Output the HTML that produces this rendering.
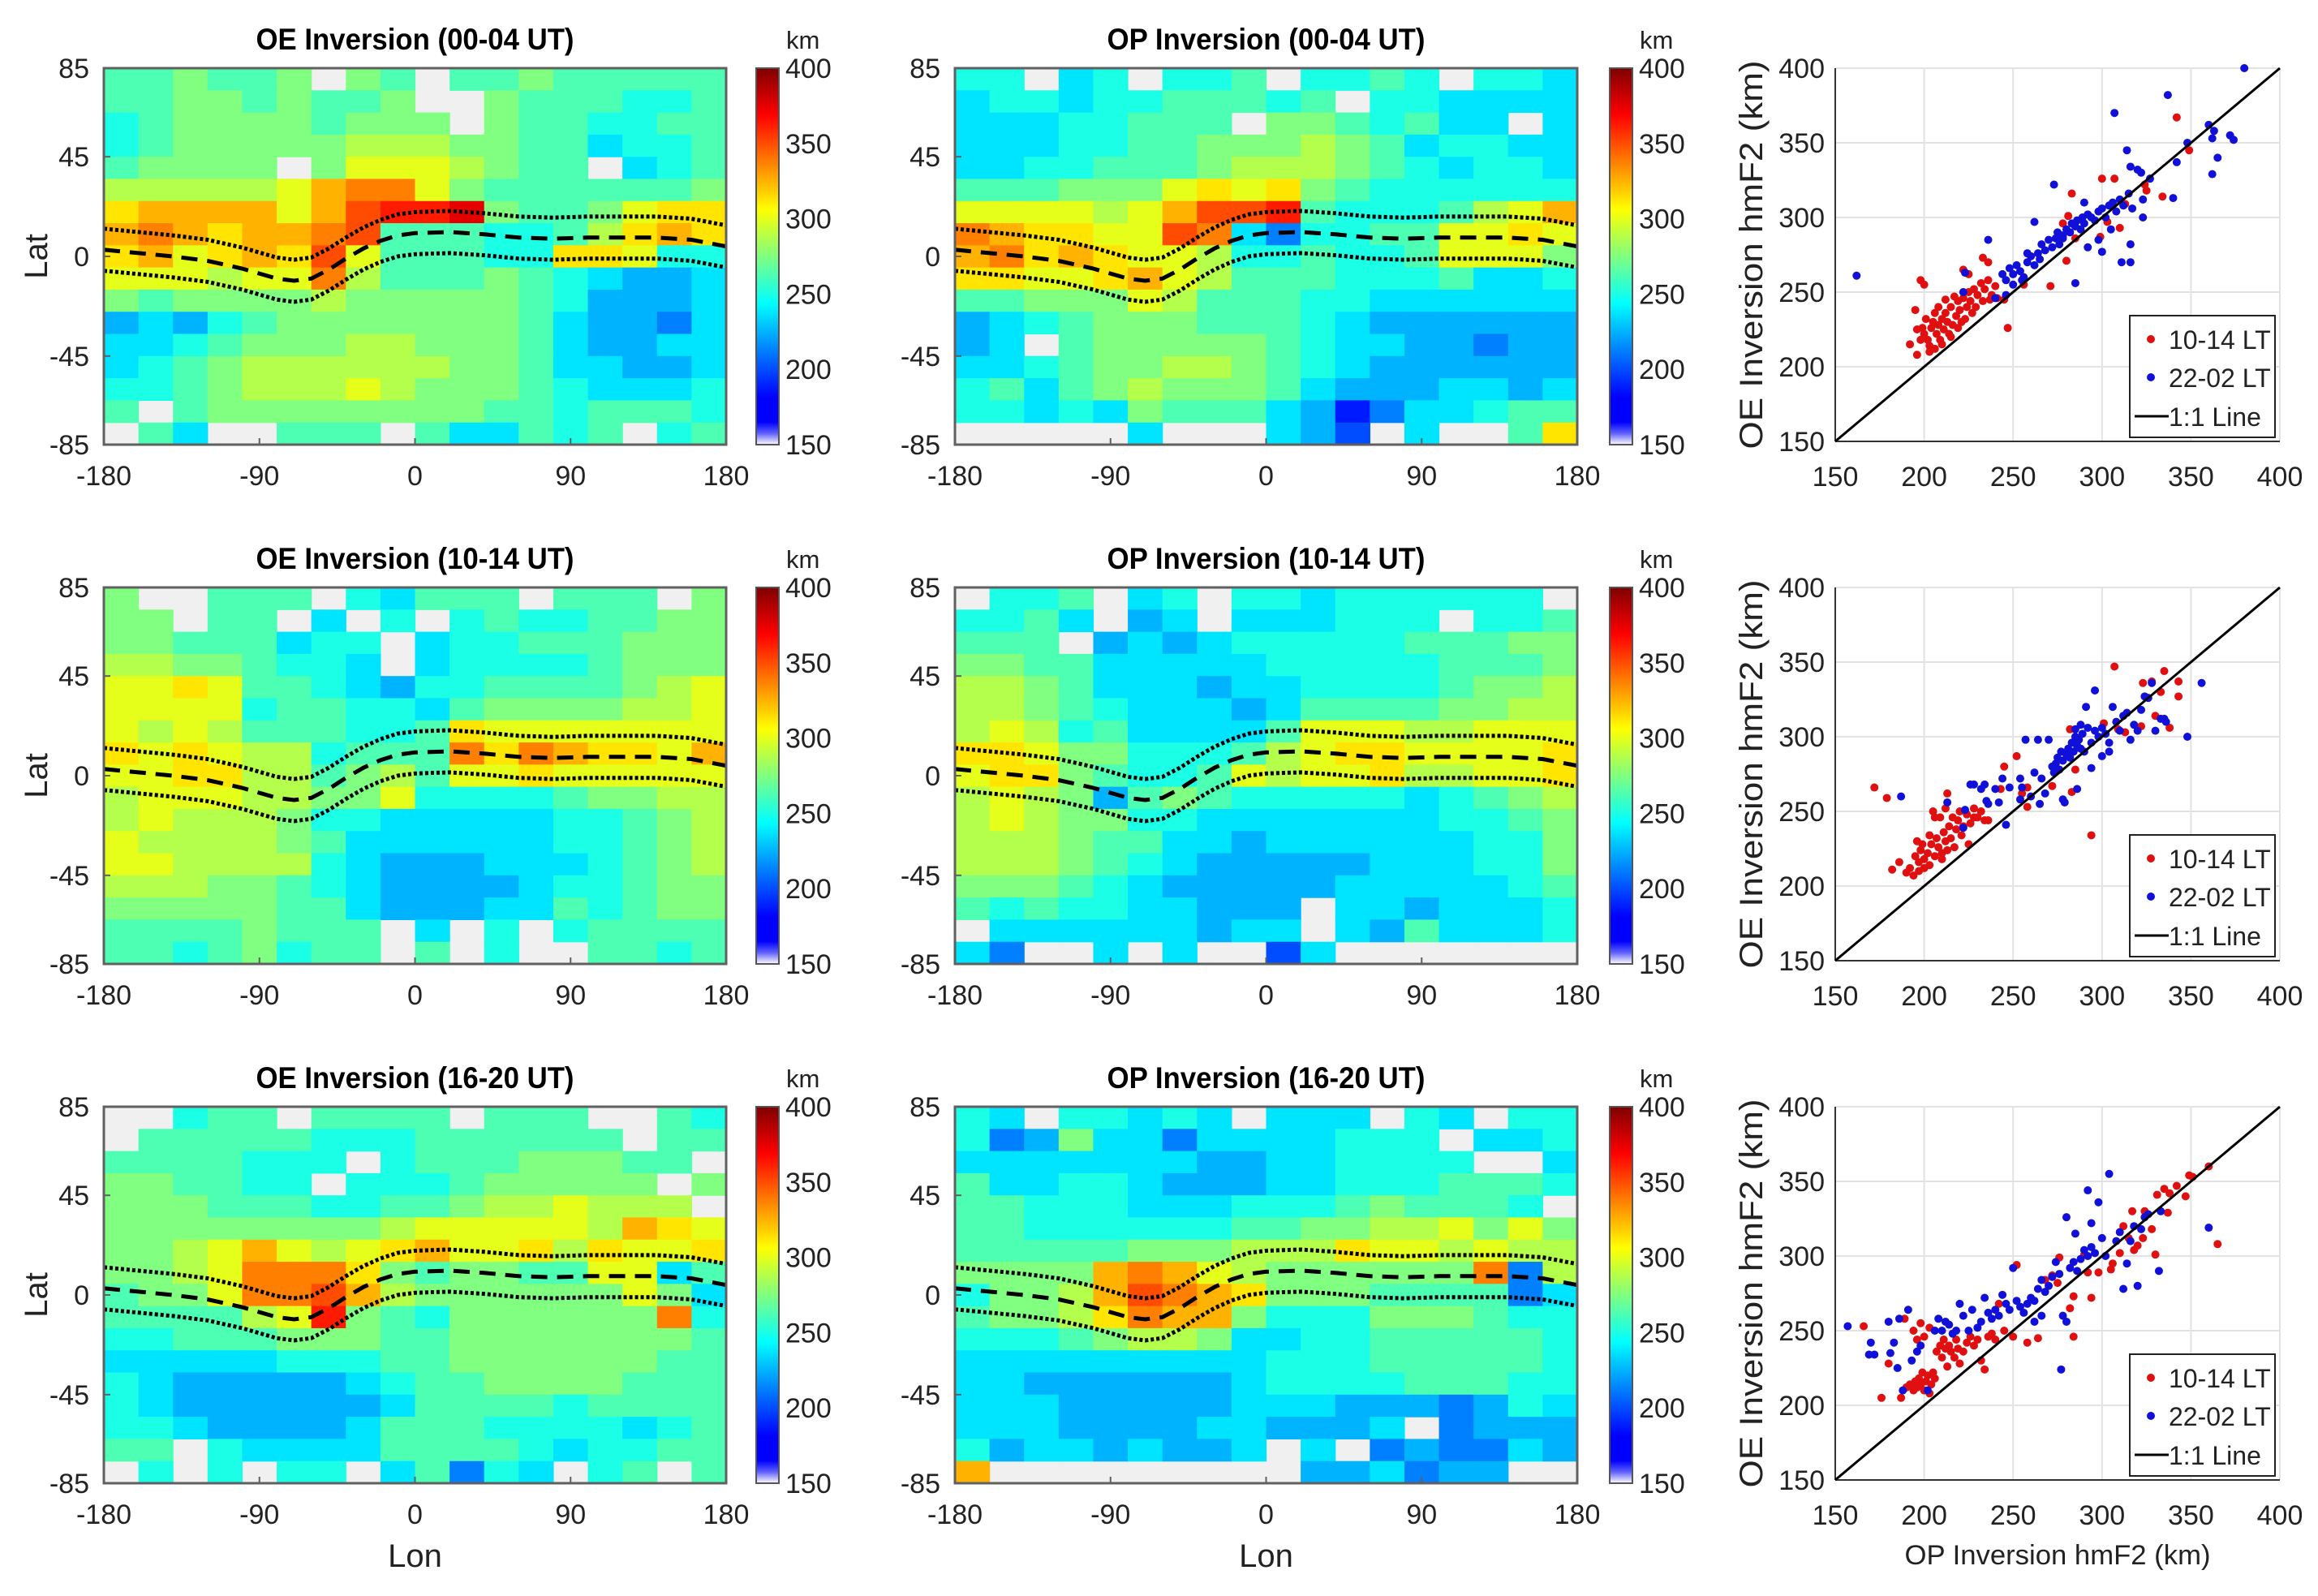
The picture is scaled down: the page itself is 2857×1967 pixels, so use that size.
<!DOCTYPE html>
<html><head><meta charset="utf-8"><title>OE vs OP Inversion hmF2</title>
<style>
html,body{margin:0;padding:0;background:#fff;}
svg{display:block;font-family:"Liberation Sans",Arial,sans-serif;}
</style></head>
<body>
<svg id="fig" xmlns="http://www.w3.org/2000/svg" width="2857" height="1967" viewBox="0 0 2857 1967">
<defs>
<linearGradient id="jet" x1="0" y1="1" x2="0" y2="0">
<stop offset="0" stop-color="#ffffff"/>
<stop offset="0.03" stop-color="#6060ff"/>
<stop offset="0.06" stop-color="#0000ff"/>
<stop offset="0.125" stop-color="#0000ff"/>
<stop offset="0.375" stop-color="#00ffff"/>
<stop offset="0.625" stop-color="#ffff00"/>
<stop offset="0.875" stop-color="#ff0000"/>
<stop offset="1" stop-color="#800000"/>
</linearGradient>
</defs>
</svg>
<script>
const LEVELS = "abcdefghijklmnopqrstu";
const gridOE0004 = [
"jjkjjk.kj.jjkjjjjj","jjkkjkjjk..kjjjiij","ijkkkkjkkk.kjjiijj","ijkkkkklllkkjjhiij",
"jkkkk.kmmmlkjj.hij","lllllmoppmkjjjjjjk","noooomoqrrskjjkmnn","oponoopqjjjiijlnon",
"nomnonqmjjjiinnmii","mmmlmmpljjjkjihggh","kjkkkklkkkkkjigggh","ghgijkkkkkkkjhggfh",
"hhijkkkllkkkjhgghh","hijkllllllkkjhhggh","iijklllmlkkkjihhhi","j.jkkkkkkkkjjijjji",
".jh..jjj.jhhjij.ij"];
const gridOP0004 = [
"ii.hi.iij.iiji.iih","hiihiijjjij.iihhhh","hhhiijjj.kkjijhh.h","hhhiijjkkklkjhiihh",
"hhiijjjklllkjihiih","jjjkkkmnmnkjiiiiii","mmmmlmoqqrjiiijlmo","ponnmmqphfiijjmmnm",
"opnonmmliijiijmmmk","nnmmnomljjjiiijhhi","jjkkkmljjjiihhhhhh","ghijkkkjjjihgggggg",
"gh.jkkkkkjihhggfgg","hhijkkllkjihgggggg","ijhjklkkkjhggghhgh","iihihkjjjhgdfhhijj",
".....h...hge.h..jn"];
const gridOE1014 = [
"k..jjj.ihjjj.jjj.k","kk.jj.h.i.ijiijjkk","kkjjjhii.hiijjjkkk","llkkjiih.hiiiijkkk",
"mmnmjjihgiijjjjklm","mmmmijjiihjkkkkllm","mlmljjjiijnmmmmmmm","nmnmllijjjpnponnmo",
"mmnnlljkljmmnmmmmm","lmmmllkkmiiiijkkll","lmlllkiihhhhhiijkl","mllllkjhhhhhhiijkl",
"mmllllihggghhhijkl","lllkkjihgggghiijkk","kkkkkjjhggghhjijkk","jjjjkjjj.h.i.ijjjj",
"jjijkijj.j.i..jjij"];
const gridOP1014 = [
".iij.hi.iihiiiiii.","iijh.gh.hhhiii.iij","jjj.ghghiiiiijjjkk","kkjjhhhhhiiiiijjjk",
"llkjhhhghhiiiijkkl","llkjihhhghjjjjkkll","lmlijhhhhjmmmllmmm","nnmkkiiijlmnnmmmmn",
"mnnkjiijmlmmnllmmn","lmlkgjkjiiiiihijkl","lmlkkiihhhhhhhiijk","lllkjjhhghhhhhhiik",
"lllkjihggggghhhiik","kkkjihggggghhhhhij","jijiihhggg.hhghhhi",".hhhhhhghh.hgjhhhi",
"hf..h.h..eh......."];
const gridOE1620 = [
"..ijj.jjjj.jjj..ji",".jjjjjiiijjjjjj.jj","jjjjiii.ijjjkkkjj.","kkjjii.iiijkkkkk.k",
"kkkjjjiijjkllmlll.","kkkkkkkklmmmmmlonm","kklmomlmnommnlnmmn","kklmpppnkjkkjjmmhj",
"jkkmppqolkkkkkkmkh","jjjjlmrkjikkkkkkpi","iijjjkkkjjkkkkkkkj","hhhhhiiijjkkkkkkjj",
"ihggggghijjkkkkjjj","ihgggggghjjjjijjjj","iihgggghjjjiiiihij","jj.ihhhhjjjjihiijj",
".i.i.ii.hjfih.ij.j"];
const gridOP1620 = [
"ih.iihih.hhh.ih.ii","ifgkhhfhhhhiii.hhi","hhhhhhhgghhiiii..h","jhhiihggghhiiijjji",
"jjiiihhhiiijkjjji.","jjiiiiiijjkkllmkmk","jjjjjkkklllnmmlmll","kkkkopomlkkkkkkpfl",
"ikkloqponkkkjjjjfh","jkklnpookiiikkkjii","iiijkllkhhiijjjjji","hhhhhhhhhiiijjjjji",
"hhgggggghiiiijjjii","hhhggggghhhgggfgih","hhhgggghhgggh.fggg","ighhghggh.h.fgffhg",
"o.........gghfgg.."];
const dipLon = [-180,-160,-140,-120,-100,-80,-70,-60,-50,-40,-30,-20,-10,0,20,40,60,80,100,120,140,160,180];
const dipLat = [3,1.5,0,-2,-5.5,-10,-11,-10,-6,-1,3.5,7,9.5,10.5,11,10,8.5,8,8.5,8.5,8.5,7.5,4.5];
const bandHalfWidth = 9.5;
const lonTicks = [-180,-90,0,90,180];
const latTicks = [85,45,0,-45,-85];
const cbTicks = [150,200,250,300,350,400];
const scTicks = [150,200,250,300,350,400];
const titles = ["OE Inversion (00-04 UT)","OP Inversion (00-04 UT)","OE Inversion (10-14 UT)","OP Inversion (10-14 UT)","OE Inversion (16-20 UT)","OP Inversion (16-20 UT)"];

const red1 = [[200,222],[202,218],[204,226],[205,230],[203,214],[207,222],[208,228],[210,232],[206,236],[209,218],[211,225],[213,230],[212,236],[215,240],[214,222],[216,228],[218,234],[219,244],[220,238],[222,246],[221,230],[224,240],[225,250],[226,244],[228,252],[230,248],[232,256],[234,252],[236,258],[238,248],[240,254],[227,236],[217,247],[212,245],[208,240],[201,232],[199,226],[198,218],[203,210],[206,212],[210,215],[215,220],[219,226],[223,232],[229,240],[233,244],[237,245],[241,246],[198,258],[200,255],[195,238],[196,225],[192,215],[196,208],[222,265],[225,262],[233,273],[236,270],[247,226],[245,245],[256,255],[271,254],[283,316],[281,301],[278,296],[300,326],[307,326],[299,287],[303,297],[310,293],[313,309],[324,322],[325,318],[334,314],[342,367],[349,345],[285,286],[280,271]];
const blue1 = [[244,262],[246,258],[248,266],[250,262],[252,268],[254,264],[256,260],[258,270],[260,274],[262,268],[264,276],[265,272],[266,282],[268,278],[270,285],[272,280],[274,286],[275,290],[276,282],[278,288],[280,292],[282,290],[283,296],[285,294],[286,298],[288,292],[289,300],[290,296],[292,302],[294,300],[296,298],[298,304],[300,306],[302,300],[304,308],[306,310],[308,304],[310,312],[312,308],[315,316],[316,334],[317,306],[320,332],[322,330],[323,312],[327,326],[300,277],[305,292],[311,270],[316,270],[316,282],[323,300],[337,382],[307,370],[314,345],[273,322],[236,285],[222,250],[223,263],[162,261],[285,256],[262,297],[278,286],[340,313],[342,337],[348,350],[360,362],[362,353],[363,358],[365,340],[362,329],[372,355],[374,352],[380,400],[290,310],[292,280],[298,285],[258,276],[246,248],[240,246],[250,255],[255,258]];
const red2 = [[172,266],[179,259],[182,211],[186,216],[190,209],[192,212],[194,207],[197,210],[228,246],[252,287],[245,280],[236,244],[243,265],[258,253],[258,266],[272,267],[283,263],[294,234],[282,305],[285,278],[307,347],[301,309],[309,305],[313,303],[322,307],[323,336],[328,337],[330,314],[333,330],[335,344],[338,306],[343,327],[343,337],[255,262],[195,220],[197,216],[198,224],[200,218],[202,222],[203,214],[204,228],[206,220],[207,232],[208,226],[210,218],[211,236],[212,230],[213,224],[214,240],[215,232],[216,246],[217,226],[218,238],[219,244],[220,250],[221,234],[222,240],[224,248],[225,228],[226,242],[228,252],[230,246],[232,250],[234,244],[205,250],[206,246],[209,246],[213,262],[212,252],[200,212],[203,234],[196,230],[199,228],[210,222]];
const blue2 = [[187,260],[213,256],[222,239],[223,251],[226,268],[228,268],[232,265],[234,268],[235,257],[236,255],[240,265],[242,256],[244,272],[246,241],[248,266],[254,258],[255,266],[257,298],[260,260],[264,298],[265,255],[268,262],[270,298],[272,280],[273,276],[274,282],[275,286],[276,278],[277,290],[278,284],[280,288],[281,292],[282,286],[283,296],[284,290],[285,300],[286,294],[287,298],[288,292],[289,302],[290,290],[292,306],[294,296],[296,304],[298,300],[300,306],[302,302],[304,296],[306,320],[308,310],[310,304],[312,314],[314,316],[316,298],[318,308],[320,304],[322,318],[324,327],[326,326],[328,336],[330,304],[333,312],[335,312],[336,310],[348,300],[356,336],[279,256],[278,258],[286,265],[294,279],[296,331],[291,320],[300,287],[304,290],[288,308],[285,305],[266,272],[262,276],[254,272]];
const red3 = [[166,253],[176,205],[180,228],[187,205],[189,258],[190,212],[192,214],[194,210],[195,216],[196,212],[197,218],[198,214],[199,222],[200,210],[201,216],[202,220],[203,208],[204,214],[205,222],[206,218],[194,250],[196,244],[198,255],[200,246],[203,252],[207,236],[209,240],[210,232],[211,244],[212,238],[213,226],[214,240],[215,236],[217,232],[218,244],[219,238],[220,228],[222,236],[224,242],[226,246],[228,240],[230,244],[232,230],[234,224],[236,246],[238,248],[240,244],[242,268],[245,250],[250,246],[252,294],[258,242],[264,245],[268,284],[272,287],[275,282],[276,299],[282,265],[284,246],[284,273],[290,301],[292,289],[294,272],[298,289],[305,291],[306,295],[310,302],[312,320],[315,312],[317,330],[318,304],[320,307],[323,312],[324,330],[328,318],[330,301],[331,341],[335,345],[337,329],[338,342],[342,347],[347,340],[349,354],[351,353],[360,360],[365,308]];
const blue3 = [[157,253],[169,234],[170,242],[172,234],[180,256],[181,235],[183,242],[185,225],[186,258],[188,210],[191,264],[193,230],[196,236],[198,240],[202,210],[206,250],[208,258],[210,250],[212,256],[214,254],[216,248],[218,250],[220,268],[222,260],[225,250],[227,264],[230,252],[232,256],[234,272],[236,262],[238,258],[240,264],[242,260],[244,274],[246,268],[248,264],[250,292],[252,270],[254,266],[256,262],[258,268],[260,272],[262,270],[264,278],[266,284],[268,276],[270,280],[272,286],[274,296],[276,288],[277,224],[278,260],[280,256],[282,292],[284,296],[286,290],[288,298],[290,304],[292,300],[294,306],[296,302],[298,336],[300,312],[302,300],[304,355],[308,310],[310,316],[312,278],[314,295],[316,310],[318,320],[320,280],[322,318],[324,326],[326,328],[332,290],[333,330],[360,319],[292,344],[280,326],[285,315],[294,322],[262,256],[266,260]];

const NS = "http://www.w3.org/2000/svg";
const fig = document.getElementById("fig");
function el(tag, attrs, parent){ const e=document.createElementNS(NS,tag); for(const k in attrs) e.setAttribute(k,attrs[k]); (parent||fig).appendChild(e); return e; }
function txt(str, attrs, parent){ const e=el("text",attrs,parent); e.textContent=str; return e; }
function clamp(v){ return Math.max(0,Math.min(1,v)); }
function jet(v){ const t=(v-150)/250; const r=clamp(1.5-Math.abs(4*t-3)), g=clamp(1.5-Math.abs(4*t-2)), b=clamp(1.5-Math.abs(4*t-1)); return "rgb("+Math.round(r*255)+","+Math.round(g*255)+","+Math.round(b*255)+")"; }

const rowTops = [84,724,1364];
const heatLefts = [128,1177];
const HW = 767, HH = 464;
const cbLefts = [932,1984];
const TF = 34;

function drawHeat(grid, x0, y0, title, cbx, showLat, showLon, idx){
  const g = el("g",{});
  
  
  const xs = lon => x0 + (lon+180)/360*HW;
  const ys = lat => y0 + (85-lat)/170*HH;
  el("rect",{x:x0,y:y0,width:HW,height:HH,fill:"#f0f0f0"},g);
  const nr = grid.length, nc = grid[0].length;
  for(let r=0;r<nr;r++){
    for(let c=0;c<nc;c++){
      const ch = grid[r][c];
      if(ch==='.') continue;
      const v = 150 + LEVELS.indexOf(ch)*12.5;
      const lonA=-180+c*360/nc, lonB=-180+(c+1)*360/nc;
      const latA=85-r*170/nr, latB=85-(r+1)*170/nr;
      const cell = el("rect",{x:xs(lonA),y:ys(latA),width:xs(lonB)-xs(lonA)+0.6,height:ys(latB)-ys(latA)+0.6,fill:jet(v)},g);
      
      
    }
  }
  const mk = off => dipLon.map((lo,i)=>(i?"L":"M")+xs(lo).toFixed(1)+" "+ys(dipLat[i]+off).toFixed(1)).join(" ");
  const dash = el("path",{d:mk(0),fill:"none",stroke:"#000","stroke-width":5,"stroke-dasharray":"20 12"},g);
  
  
  const up = el("path",{d:mk(bandHalfWidth),fill:"none",stroke:"#000","stroke-width":5,"stroke-dasharray":"4 3"},g);
  
  
  const dn = el("path",{d:mk(-bandHalfWidth),fill:"none",stroke:"#000","stroke-width":5,"stroke-dasharray":"4 3"},g);
  
  
  const frame = el("rect",{x:x0,y:y0,width:HW,height:HH,fill:"none",stroke:"#606060","stroke-width":3},g);
  
  
  const t = txt(title,{x:x0+HW/2,y:y0-23,"text-anchor":"middle","font-size":37,"font-weight":"bold",textLength:392,lengthAdjust:"spacingAndGlyphs"},g);
  
  
  lonTicks.forEach(lo=>{
    el("line",{x1:xs(lo),x2:xs(lo),y1:y0+HH,y2:y0+HH-8,stroke:"#606060","stroke-width":2},g);
    const l = txt(String(lo),{x:xs(lo),y:y0+HH+50,"text-anchor":"middle","font-size":TF,fill:"#222"},g);
    
    
  });
  latTicks.forEach(la=>{
    el("line",{x1:x0,x2:x0+8,y1:ys(la),y2:ys(la),stroke:"#606060","stroke-width":2},g);
    const l = txt(String(la),{x:x0-18,y:ys(la)+12,"text-anchor":"end","font-size":TF,fill:"#222"},g);
    
    
  });
  if(showLat){
    const l = txt("Lat",{x:0,y:0,"text-anchor":"middle","font-size":40,fill:"#222",transform:"translate(58,"+(y0+HH/2)+") rotate(-90)"},g);
    
    
  }
  if(showLon){
    const l = txt("Lon",{x:x0+HW/2,y:y0+HH+103,"text-anchor":"middle","font-size":40,fill:"#222"},g);
    
    
  }
  const cb = el("rect",{x:cbx,y:y0,width:28,height:HH,fill:"url(#jet)",stroke:"#555","stroke-width":2},g);
  
  
  const cys = v => y0 + HH - (v-150)/250*HH;
  cbTicks.forEach(v=>{
    const l = txt(String(v),{x:cbx+36,y:cys(v)+12,"font-size":TF,fill:"#222"},g);
    
    
  });
  const km = txt("km",{x:cbx+37,y:y0-24,"font-size":31,fill:"#222"},g);
  
  
}

const grids = [gridOE0004,gridOP0004,gridOE1014,gridOP1014,gridOE1620,gridOP1620];
for(let i=0;i<6;i++){
  const row = Math.floor(i/2), col = i%2;
  drawHeat(grids[i], heatLefts[col], rowTops[row], titles[i], cbLefts[col], col===0, row===2, i);
}

const SX0 = 2262, SW = 548, SH = 460;
function drawScatter(y0, red, blue, showX, idx){
  const g = el("g",{});
  
  
  const xs = v => SX0 + (v-150)/250*SW;
  const ys = v => y0 + SH - (v-150)/250*SH;
  scTicks.forEach(v=>{
    el("line",{x1:xs(v),x2:xs(v),y1:y0,y2:y0+SH,stroke:"#e2e2e2","stroke-width":2},g);
    el("line",{x1:SX0,x2:SX0+SW,y1:ys(v),y2:ys(v),stroke:"#e2e2e2","stroke-width":2},g);
    const lx = txt(String(v),{x:xs(v),y:y0+SH+55,"text-anchor":"middle","font-size":TF,fill:"#222"},g);
    
    
    const ly = txt(String(v),{x:SX0-13,y:ys(v)+12,"text-anchor":"end","font-size":TF,fill:"#222"},g);
    
    
  });
  el("line",{x1:SX0,x2:SX0,y1:y0,y2:y0+SH,stroke:"#333","stroke-width":2},g);
  el("line",{x1:SX0,x2:SX0+SW,y1:y0+SH,y2:y0+SH,stroke:"#333","stroke-width":2},g);
  red.forEach(p=>{
    const c = el("circle",{cx:xs(p[0]),cy:ys(p[1]),r:5,fill:"#e01010"},g);
    
    
  });
  blue.forEach(p=>{
    const c = el("circle",{cx:xs(p[0]),cy:ys(p[1]),r:5,fill:"#1010d8"},g);
    
    
  });
  const ln = el("line",{x1:xs(150),y1:ys(150),x2:xs(400),y2:ys(400),stroke:"#000","stroke-width":3},g);
  
  
  const yl = txt("OE Inversion hmF2 (km)",{x:0,y:0,"text-anchor":"middle","font-size":40,fill:"#222",textLength:479,lengthAdjust:"spacingAndGlyphs",transform:"translate(2172,"+(y0+SH/2)+") rotate(-90)"},g);
  
  
  if(showX){
    const xl = txt("OP Inversion hmF2 (km)",{x:SX0+SW/2,y:y0+SH+104,"text-anchor":"middle","font-size":34,fill:"#222",textLength:377,lengthAdjust:"spacingAndGlyphs"},g);
    
    
  }
  const lg = el("g",{},g);
  
  
  el("rect",{x:2625,y:y0+305,width:179,height:150,fill:"#fff",stroke:"#222","stroke-width":2},lg);
  el("circle",{cx:2651,cy:y0+334,r:5,fill:"#e01010"},lg);
  const e1 = txt("10-14 LT",{x:2673,y:y0+346,"font-size":32,fill:"#222"},lg);
  
  
  el("circle",{cx:2651,cy:y0+381,r:5,fill:"#1010d8"},lg);
  const e2 = txt("22-02 LT",{x:2673,y:y0+393,"font-size":32,fill:"#222"},lg);
  
  
  el("line",{x1:2631,x2:2673,y1:y0+429,y2:y0+429,stroke:"#000","stroke-width":3},lg);
  const e3 = txt("1:1 Line",{x:2673,y:y0+441,"font-size":32,fill:"#222"},lg);
  
  
}
drawScatter(rowTops[0], red1, blue1, false, 0);
drawScatter(rowTops[1], red2, blue2, false, 1);
drawScatter(rowTops[2], red3, blue3, true, 2);
</script>
</body></html>
